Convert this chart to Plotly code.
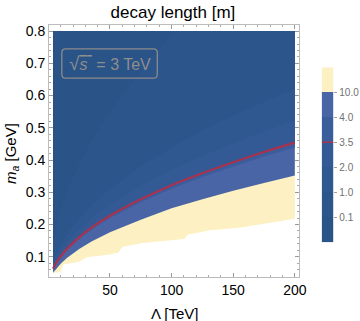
import plotly.graph_objects as go

# ---- data ----
levels = [0.1, 1.0, 2.0, 3.5, 4.0, 10.0]
lam = [3.8, 6, 10, 15, 25, 35, 50, 75, 100, 125, 150, 175, 200]
m_c1 = [0.086, 0.108, 0.138, 0.170, 0.219, 0.260, 0.311, 0.380, 0.440, 0.491, 0.538, 0.581, 0.621]
m_c2 = [0.072, 0.091, 0.116, 0.143, 0.184, 0.219, 0.261, 0.320, 0.370, 0.413, 0.452, 0.489, 0.522]
m_c35 = [0.063, 0.079, 0.101, 0.124, 0.160, 0.190, 0.227, 0.278, 0.322, 0.359, 0.393, 0.425, 0.454]
m_c4 = [0.061, 0.076, 0.098, 0.120, 0.155, 0.184, 0.220, 0.269, 0.311, 0.347, 0.380, 0.411, 0.439]
m_c10 = [0.050, 0.061, 0.078, 0.096, 0.124, 0.147, 0.176, 0.215, 0.250, 0.278, 0.305, 0.329, 0.352]
lam_c01 = [3.8, 6, 10, 15, 25, 35, 50, 75, 100, 103]
m_c01 = [0.152, 0.191, 0.247, 0.302, 0.390, 0.461, 0.552, 0.676, 0.790, 0.800]
lam_low = [3.8, 10, 12, 25, 31, 50, 57, 60, 75, 100, 110, 113, 131, 155, 175, 200]
m_low = [0.050, 0.052, 0.076, 0.084, 0.098, 0.107, 0.113, 0.130, 0.142, 0.152, 0.155, 0.168, 0.182, 0.190, 0.202, 0.218]
lam_min, lam_max, m_top = 3.8, 200, 0.8

# band colours, lowest level band first (<0.1 ... >10)
band_colors = ['#2a5388', '#2c558c', '#2f5890', '#335a95', '#3a5d9c', '#4a65a6', '#fdf0c2']
red = '#a9324f'

fig = go.Figure()

def band(xs, ys, color):
    fig.add_trace(go.Scatter(
        x=list(xs) + [lam_max, lam_min], y=list(ys) + [m_top, m_top],
        fill='toself', fillcolor=color, mode='lines', line=dict(width=0),
        hoverinfo='skip', showlegend=False))

band(lam_low, m_low, band_colors[6])
band(lam, m_c10, band_colors[5])
band(lam, m_c4, band_colors[4])
band(lam, m_c35, band_colors[3])
band(lam, m_c2, band_colors[2])
band(lam, m_c1, band_colors[1])
band(lam_c01, m_c01, band_colors[0])

fig.add_trace(go.Scatter(x=lam, y=m_c35, mode='lines', line=dict(color=red, width=2.2, shape='spline'),
                         hoverinfo='skip', showlegend=False))

# ---- colour bar ----
n = len(band_colors)
cs = []
for i, c in enumerate(band_colors):
    cs.append([i / n, c])
    cs.append([(i + 1) / n, c])
fig.add_trace(go.Heatmap(x=[0], y=list(range(n)), z=[[i] for i in range(n)], zmin=-0.5, zmax=n - 0.5,
                         colorscale=cs, showscale=False, xaxis='x2', yaxis='y2', hoverinfo='skip'))
ired = levels.index(3.5) + 0.5
fig.add_trace(go.Scatter(x=[-0.5, 0.5], y=[ired, ired], mode='lines', line=dict(color=red, width=1.5),
                         xaxis='x2', yaxis='y2', hoverinfo='skip', showlegend=False))

axfont = dict(family='Liberation Sans, Arial, sans-serif', size=14, color='black')
frame = '#bcbcbc'
fig.update_layout(
    width=360, height=321,
    margin=dict(l=49, r=20, t=25, b=44),
    paper_bgcolor='white', plot_bgcolor='white',
    font=dict(family='Liberation Sans, Arial, sans-serif'),
    title=dict(text='decay length [m]', x=0.426, xref='paper', y=1 - 12.5 / 321, yref='container',
               xanchor='center', yanchor='middle', font=dict(size=17, color='black')),
    xaxis=dict(domain=[0, 0.860], range=[0.5, 203.6], showline=True, linecolor=frame, linewidth=1,
               mirror='ticks', ticks='inside', ticklen=4, tickcolor='#9a9a9a',
               tickvals=[50, 100, 150, 200], tickfont=axfont, showgrid=False, zeroline=False,
               minor=dict(dtick=10, tick0=0, ticks='inside', ticklen=2, tickcolor='#aaaaaa'),
               automargin=False),
    yaxis=dict(domain=[0, 1], range=[0.037, 0.819], showline=True, linecolor=frame, linewidth=1,
               mirror='ticks', ticks='inside', ticklen=4, tickcolor='#9a9a9a',
               tickvals=[0.1, 0.2, 0.3, 0.4, 0.5, 0.6, 0.7, 0.8],
               ticktext=['0.1', '0.2', '0.3', '0.4', '0.5', '0.6', '0.7', '0.8'],
               tickfont=axfont, showgrid=False, zeroline=False,
               minor=dict(dtick=0.02, tick0=0, ticks='inside', ticklen=2, tickcolor='#aaaaaa'),
               automargin=False),
    xaxis2=dict(domain=[0.937, 0.977], range=[-0.5, 0.5], visible=False, anchor='y2'),
    yaxis2=dict(domain=[0.138, 0.832], range=[-0.5, n - 0.5], anchor='x2', side='right',
                tickvals=[i + 0.5 for i in range(len(levels))],
                ticktext=['%.1f' % v for v in levels],
                ticks='outside', ticklen=3, tickcolor='#a0a0a0', showline=False, showgrid=False,
                zeroline=False, tickfont=dict(size=10, color='#707070'), automargin=False),
    annotations=[
        dict(text='Λ [TeV]', x=0.433, y=-0.143, xref='paper', yref='paper', showarrow=False,
             xanchor='center', yanchor='middle', font=dict(size=15, color='black')),
        dict(text='<i>m<sub>a</sub></i> [GeV]', x=-0.1306, y=0.492, xref='paper', yref='paper',
             showarrow=False, textangle=-90, xanchor='center', yanchor='middle',
             font=dict(size=15, color='black')),
        dict(text='<span style="font-size:19px">√</span><span style="text-decoration:overline"><i>s</i> </span> = 3 TeV',
             x=49.6, y=0.699, xref='x', yref='y', showarrow=False,
             xanchor='center', yanchor='middle', font=dict(size=16, color='#8e8e8e')),
    ],
)

# rounded box around the inset label
x0, x1, y0, y1, rx, ry = 10.9, 88.4, 0.654, 0.745, 3.2, 0.0124
path = (f'M {x0+rx},{y0} L {x1-rx},{y0} Q {x1},{y0} {x1},{y0+ry} L {x1},{y1-ry} '
        f'Q {x1},{y1} {x1-rx},{y1} L {x0+rx},{y1} Q {x0},{y1} {x0},{y1-ry} '
        f'L {x0},{y0+ry} Q {x0},{y0} {x0+rx},{y0} Z')
fig.add_shape(type='path', path=path, xref='x', yref='y', line=dict(color='#8a8a8a', width=1.3))

fig.write_html('out.html', config={'displayModeBar': False},
               post_script="document.body.style.margin='0';")
